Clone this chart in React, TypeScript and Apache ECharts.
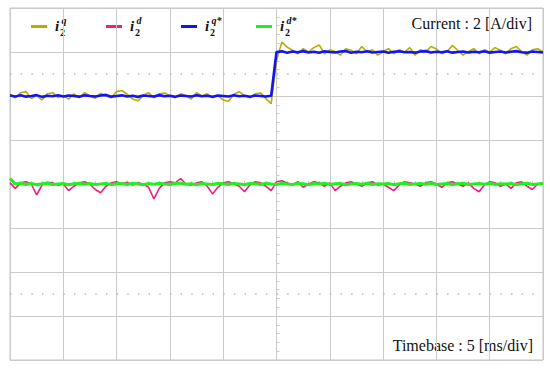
import React, { useEffect, useRef } from "react";
import * as echarts from "echarts";

// time axis (ms) relative to the reference step, sampled every 0.5 ms
const T_START = -25;
const T_STEP = 0.5;

// i2q (measured q-axis current), A
const iqMeasured = [
  4.08, 3.92, 4.15, 4.2, 3.88, 4.02, 3.82, 4.1, 4.15, 3.93,
  4.02, 3.86, 4.1, 3.92, 4.15, 4.0, 3.9, 4.12, 4.0, 3.92,
  4.2, 4.25, 4.08, 3.86, 3.78, 4.02, 4.15, 3.92, 4.1, 4.14,
  4.0, 3.92, 4.1, 4.02, 3.86, 4.15, 4.0, 4.1, 3.92, 4.02,
  3.82, 3.76, 4.08, 4.2, 4.02, 3.92, 4.1, 4.14, 3.88, 3.65,
  5.6,
  6.45, 6.22, 6.08, 5.92, 6.15, 6.0, 6.2, 6.32, 5.92, 6.1,
  6.02, 5.86, 6.15, 6.08, 5.92, 6.25, 6.0, 6.1, 5.86, 6.02,
  6.15, 5.92, 6.1, 6.0, 6.2, 5.86, 6.1, 6.02, 6.25, 6.14,
  5.92, 6.02, 6.3, 6.08, 5.86, 6.02, 6.15, 5.92, 6.1, 6.0,
  6.2, 6.08, 5.92, 6.15, 6.25, 6.02, 5.86, 6.1, 6.15, 6.0,
];

// i2d (measured d-axis current), A
const idMeasured = [
  0.05, -0.2, 0.05, 0.1, 0.0, -0.5, -0.05, 0.08, 0.05, -0.05,
  0.0, -0.3, -0.1, 0.05, 0.1, 0.0, -0.25, -0.4, -0.1, 0.05,
  0.1, 0.0, 0.08, -0.05, 0.05, 0.0, -0.15, -0.68, -0.2, 0.05,
  0.1, 0.05, 0.25, 0.0, -0.05, 0.05, 0.1, -0.1, -0.45, -0.15,
  0.05, 0.1, 0.0, -0.1, -0.35, -0.05, 0.1, 0.05, -0.1, -0.3,
  0.1,
  0.15, 0.05, -0.05, 0.1, -0.15, 0.0, 0.1, 0.05, -0.1, 0.05,
  -0.3, -0.1, 0.05, 0.1, 0.0, -0.1, 0.05, 0.1, -0.05, 0.0,
  -0.15, -0.3, -0.05, 0.1, 0.05, 0.0, -0.1, 0.05, 0.1, 0.0,
  -0.15, 0.05, 0.1, 0.0, -0.1, 0.05, -0.2, -0.35, -0.05, 0.1,
  0.05, -0.1, 0.0, -0.2, 0.05, 0.1, -0.1, -0.25, 0.0, 0.05,
];

// i2q* (q-axis reference), A
const iqRef = [
  4.02, 3.98, 4.03, 3.97, 4.0, 4.04, 3.96, 4.01, 3.99, 4.03,
  3.98, 4.02, 4.0, 3.97, 4.03, 4.0, 3.98, 4.02, 4.05, 3.97,
  4.0, 4.03, 3.98, 4.01, 3.96, 4.02, 4.0, 3.98, 4.04, 3.99,
  4.01, 3.97, 4.02, 4.0, 3.98, 4.03, 3.99, 4.01, 3.97, 4.02,
  4.0, 3.98, 4.03, 3.99, 4.01, 3.97, 4.02, 4.0, 3.98, 4.01,
  6.0,
  6.03, 5.97, 6.02, 5.99, 6.04, 5.98, 6.01, 5.97, 6.03, 6.0,
  5.98, 6.02, 6.04, 5.97, 6.01, 5.99, 6.03, 5.98, 6.0, 6.02,
  5.97, 6.01, 6.03, 5.99, 6.0, 5.97, 6.02, 6.04, 5.98, 6.01,
  5.99, 6.03, 5.97, 6.0, 6.02, 5.98, 6.01, 5.99, 6.03, 5.97,
  6.0, 6.02, 5.98, 6.01, 6.04, 5.99, 5.97, 6.02, 6.0, 5.98,
];

// i2d* (d-axis reference), A
const idRef = [
  0.25, 0.0, 0.03, -0.02, 0.02, -0.03, 0.01, 0.03, -0.02, 0.0,
  0.02, -0.03, 0.01, 0.03, -0.01, 0.02, -0.02, 0.0, 0.03, -0.03,
  0.01, 0.02, -0.02, 0.03, 0.0, -0.03, 0.02, -0.01, 0.03, 0.0,
  -0.02, 0.02, 0.04, -0.01, 0.01, -0.03, 0.02, 0.0, -0.02, 0.03,
  0.01, -0.02, 0.02, 0.0, -0.03, 0.02, 0.01, -0.02, 0.03, 0.0,
  -0.02,
  0.03, 0.0, -0.02, 0.02, 0.01, -0.03, 0.02, 0.0, 0.03, -0.02,
  0.01, 0.02, -0.03, 0.0, 0.02, -0.01, 0.03, -0.02, 0.01, 0.0,
  0.02, -0.03, 0.01, 0.03, -0.02, 0.0, 0.02, -0.01, 0.03, -0.02,
  0.0, 0.02, -0.03, 0.01, 0.03, -0.02, 0.0, 0.02, -0.01, 0.03,
  -0.02, 0.01, 0.0, 0.02, -0.03, 0.01, 0.03, -0.02, 0.0, 0.02,
];

// dotted marker levels (A)
const dottedLevels = [5, -5];

const seriesNames = ["i2q", "i2d", "i2q*", "i2d*"];
const seriesColors = ["#b5ae00", "#f0207c", "#1414f0", "#22ee22"];
const legendSup = ["q", "d", "q*", "d*"];

const toPairs = (vals: number[]) => vals.map((v, i) => [T_START + i * T_STEP, v]);

const SERIF = "Liberation Serif";

export default function App() {
  const ref = useRef<HTMLDivElement>(null);
  useEffect(() => {
    if (!ref.current) return;
    const chart = echarts.init(ref.current, undefined, { renderer: "svg" });
    const gridColor = "#cacaca";
    const legendGraphics: any[] = [];
    seriesColors.forEach((c, k) => {
      const base = 31 + 75 * k;
      legendGraphics.push(
        { type: "rect", shape: { x: base, y: 25, width: 16, height: 3 }, style: { fill: c } },
        {
          type: "text",
          style: {
            text: "i", x: base + 24, y: 25.5, fontFamily: SERIF, fontSize: 15, fontStyle: "italic", fontWeight: "bold",
            fill: "#111", verticalAlign: "middle", align: "left",
          },
        },
        {
          type: "text",
          style: {
            text: "2", x: base + 29, y: 32, fontFamily: SERIF, fontSize: 10, fontWeight: "bold",
            fill: "#111", verticalAlign: "middle", align: "left",
          },
        },
        {
          type: "text",
          style: {
            text: legendSup[k], x: base + 30.5, y: 20, fontFamily: SERIF, fontSize: 10, fontStyle: "italic", fontWeight: "bold",
            fill: "#111", verticalAlign: "middle", align: "left",
          },
        }
      );
    });

    const lineWidths = [1.6, 1.6, 2.6, 3];
    const data = [iqMeasured, idMeasured, iqRef, idRef];

    chart.setOption({
      animation: false,
      backgroundColor: "#ffffff",
      textStyle: { fontFamily: SERIF },
      grid: { left: 10, right: 7, top: 8, bottom: 9, show: true, borderColor: "#c4c4c4", borderWidth: 1 },
      xAxis: {
        type: "value",
        min: -25,
        max: 25,
        interval: 5,
        axisLabel: { show: false },
        axisLine: { show: true, onZero: true, lineStyle: { color: gridColor, width: 1 } },
        axisTick: { show: true, inside: true, length: 4, lineStyle: { color: gridColor } },
        minorTick: { show: true, splitNumber: 5, length: 3, lineStyle: { color: gridColor } },
        splitLine: { show: true, lineStyle: { color: gridColor, width: 1 } },
      },
      yAxis: {
        type: "value",
        min: -8,
        max: 8,
        interval: 2,
        axisLabel: { show: false },
        axisLine: { show: true, onZero: true, lineStyle: { color: gridColor, width: 1 } },
        axisTick: { show: true, inside: true, length: 4, lineStyle: { color: gridColor } },
        minorTick: { show: true, splitNumber: 5, length: 3, lineStyle: { color: gridColor } },
        splitLine: { show: true, lineStyle: { color: gridColor, width: 1 } },
      },
      series: data.map((vals, k) => ({
        name: seriesNames[k],
        type: "line",
        data: toPairs(vals),
        showSymbol: false,
        symbol: "none",
        lineStyle: { color: seriesColors[k], width: lineWidths[k] },
        itemStyle: { color: seriesColors[k] },
        z: 2 + k,
        markLine:
          k === 0
            ? {
                silent: true,
                symbol: "none",
                label: { show: false },
                lineStyle: { color: "#b8b8b8", width: 1.5, type: [1.5, 9.16] },
                data: dottedLevels.map((v) => ({ yAxis: v })),
              }
            : undefined,
      })),
      graphic: [
        ...legendGraphics,
        {
          type: "text",
          style: {
            text: "Current : 2 [A/div]", x: 532, y: 23, fontFamily: SERIF, fontSize: 16,
            fill: "#111", align: "right", verticalAlign: "middle",
          },
        },
        {
          type: "text",
          style: {
            text: "Timebase : 5 [ms/div]", x: 533, y: 345, fontFamily: SERIF, fontSize: 16,
            fill: "#111", align: "right", verticalAlign: "middle",
          },
        },
      ],
    });
    return () => chart.dispose();
  }, []);
  return <div ref={ref} style={{ position: "fixed", left: 0, top: 0, width: 550, height: 369 }} />;
}
